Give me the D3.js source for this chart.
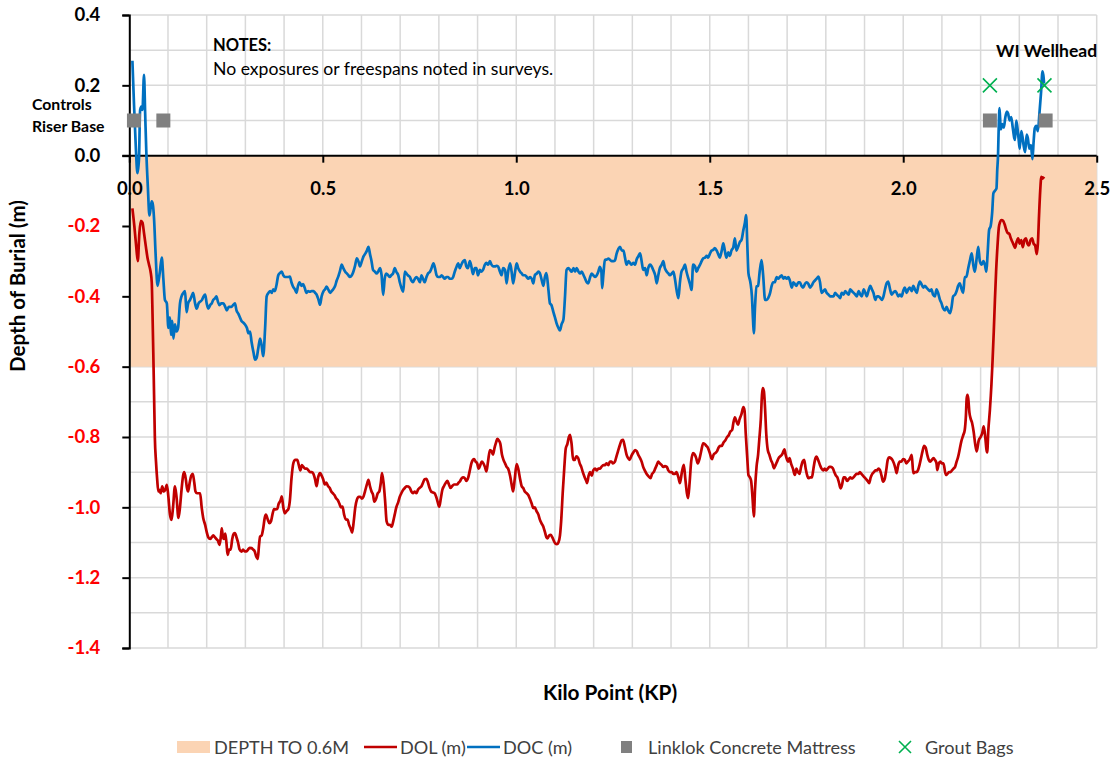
<!DOCTYPE html>
<html><head><meta charset="utf-8">
<script src="https://cdn.jsdelivr.net/npm/d3@7"></script>
<style>
body{margin:0;background:#fff;}
text{font-family:Lato,"Open Sans",sans-serif;}
</style></head>
<body><svg id="chart" width="1119" height="764"></svg>
<script>
// ---------------- DATA ----------------
const xTicks = [0, 0.5, 1.0, 1.5, 2.0, 2.5];
const yTicks = [0.4, 0.2, 0.0, -0.2, -0.4, -0.6, -0.8, -1.0, -1.2, -1.4];
const bandRange = [0, -0.6];   // DEPTH TO 0.6M
const seriesNames = ["DEPTH TO 0.6M", "DOL (m)", "DOC (m)", "Linklok Concrete Mattress", "Grout Bags"];
const mattressKP = [0.012, 0.088, 2.224, 2.368];
const mattressDepth = 0.1;
const groutKP = [2.224, 2.365];
const groutDepth = 0.2;

// DOC (m): [KP, depth]
const docData = [
[0.008,0.27],[0.012,0.15],[0.017,0.02],[0.021,-0.05],[0.025,-0.01],[0.028,0.13],[0.032,0.14],[0.034,0.13],[0.038,0.23],[0.041,0.12],
[0.044,0.01],[0.048,-0.09],[0.052,-0.17],[0.055,-0.15],[0.058,-0.13],[0.061,-0.14],[0.064,-0.18],[0.068,-0.28],[0.073,-0.37],[0.079,-0.33],
[0.084,-0.29],[0.088,-0.35],[0.092,-0.41],[0.097,-0.42],[0.101,-0.49],[0.105,-0.46],[0.108,-0.51],[0.111,-0.47],[0.114,-0.52],[0.118,-0.48],
[0.122,-0.50],[0.126,-0.49],[0.131,-0.42],[0.135,-0.40],[0.14,-0.39],[0.144,-0.385],[0.148,-0.445],[0.152,-0.42],[0.157,-0.41],[0.161,-0.40],
[0.165,-0.39],[0.17,-0.42],[0.174,-0.435],[0.179,-0.42],[0.183,-0.415],[0.188,-0.41],[0.192,-0.40],[0.196,-0.395],[0.2,-0.42],[0.204,-0.435],
[0.209,-0.425],[0.213,-0.42],[0.217,-0.41],[0.222,-0.405],[0.225,-0.40],[0.229,-0.415],[0.233,-0.425],[0.238,-0.42],[0.243,-0.42],[0.248,-0.43],
[0.252,-0.44],[0.257,-0.43],[0.264,-0.43],[0.268,-0.425],[0.273,-0.42],[0.277,-0.44],[0.282,-0.45],[0.286,-0.46],[0.29,-0.47],[0.295,-0.475],
[0.299,-0.48],[0.304,-0.49],[0.308,-0.505],[0.312,-0.50],[0.316,-0.53],[0.321,-0.56],[0.325,-0.58],[0.329,-0.575],[0.333,-0.55],[0.338,-0.52],
[0.342,-0.54],[0.346,-0.57],[0.351,-0.49],[0.355,-0.40],[0.36,-0.39],[0.364,-0.385],[0.368,-0.39],[0.372,-0.38],[0.376,-0.385],[0.38,-0.37],
[0.385,-0.34],[0.389,-0.334],[0.394,-0.33],[0.398,-0.34],[0.402,-0.345],[0.407,-0.345],[0.411,-0.345],[0.415,-0.344],[0.419,-0.36],[0.423,-0.372],
[0.428,-0.38],[0.432,-0.39],[0.436,-0.37],[0.44,-0.36],[0.445,-0.37],[0.449,-0.365],[0.453,-0.375],[0.458,-0.39],[0.462,-0.385],[0.467,-0.387],
[0.471,-0.385],[0.476,-0.385],[0.48,-0.39],[0.484,-0.395],[0.489,-0.41],[0.493,-0.424],[0.497,-0.40],[0.502,-0.385],[0.506,-0.38],[0.51,-0.372],
[0.514,-0.38],[0.519,-0.39],[0.523,-0.385],[0.527,-0.38],[0.532,-0.37],[0.536,-0.355],[0.54,-0.344],[0.544,-0.33],[0.549,-0.31],[0.553,-0.32],
[0.558,-0.33],[0.562,-0.335],[0.566,-0.34],[0.57,-0.345],[0.575,-0.34],[0.579,-0.33],[0.583,-0.315],[0.588,-0.292],[0.592,-0.30],[0.596,-0.315],
[0.601,-0.30],[0.605,-0.287],[0.609,-0.28],[0.614,-0.27],[0.618,-0.259],[0.622,-0.28],[0.626,-0.30],[0.63,-0.325],[0.635,-0.33],[0.639,-0.335],
[0.643,-0.33],[0.648,-0.32],[0.652,-0.34],[0.656,-0.396],[0.66,-0.35],[0.664,-0.335],[0.669,-0.34],[0.673,-0.345],[0.677,-0.34],[0.682,-0.334],
[0.686,-0.32],[0.69,-0.33],[0.695,-0.34],[0.699,-0.36],[0.703,-0.375],[0.708,-0.387],[0.712,-0.33],[0.716,-0.335],[0.72,-0.34],[0.725,-0.345],
[0.729,-0.355],[0.733,-0.36],[0.738,-0.35],[0.742,-0.345],[0.746,-0.35],[0.751,-0.36],[0.755,-0.34],[0.759,-0.35],[0.763,-0.36],[0.768,-0.345],
[0.772,-0.335],[0.777,-0.33],[0.781,-0.32],[0.786,-0.306],[0.79,-0.32],[0.794,-0.34],[0.798,-0.345],[0.803,-0.345],[0.807,-0.34],[0.811,-0.345],
[0.815,-0.35],[0.82,-0.345],[0.824,-0.345],[0.828,-0.35],[0.833,-0.35],[0.837,-0.345],[0.841,-0.33],[0.846,-0.315],[0.85,-0.306],[0.854,-0.32],
[0.858,-0.31],[0.863,-0.30],[0.867,-0.297],[0.871,-0.315],[0.875,-0.32],[0.88,-0.30],[0.884,-0.315],[0.888,-0.337],[0.893,-0.32],[0.897,-0.32],
[0.901,-0.34],[0.906,-0.325],[0.91,-0.33],[0.914,-0.325],[0.919,-0.31],[0.923,-0.305],[0.927,-0.31],[0.932,-0.30],[0.936,-0.31],[0.94,-0.315],
[0.945,-0.315],[0.949,-0.313],[0.953,-0.315],[0.958,-0.33],[0.962,-0.34],[0.966,-0.32],[0.971,-0.325],[0.975,-0.363],[0.979,-0.33],[0.984,-0.306],
[0.988,-0.33],[0.992,-0.363],[0.997,-0.33],[1.001,-0.306],[1.005,-0.32],[1.01,-0.33],[1.014,-0.335],[1.018,-0.34],[1.023,-0.34],[1.027,-0.345],
[1.031,-0.35],[1.036,-0.345],[1.04,-0.35],[1.044,-0.363],[1.048,-0.34],[1.053,-0.335],[1.057,-0.33],[1.061,-0.334],[1.066,-0.355],[1.07,-0.37],
[1.074,-0.345],[1.078,-0.334],[1.083,-0.38],[1.087,-0.42],[1.091,-0.425],[1.096,-0.445],[1.1,-0.46],[1.104,-0.476],[1.109,-0.49],[1.113,-0.497],
[1.117,-0.48],[1.122,-0.465],[1.126,-0.40],[1.13,-0.325],[1.135,-0.32],[1.139,-0.325],[1.143,-0.33],[1.148,-0.32],[1.152,-0.33],[1.156,-0.32],
[1.161,-0.33],[1.165,-0.335],[1.169,-0.33],[1.174,-0.34],[1.178,-0.35],[1.182,-0.36],[1.186,-0.363],[1.191,-0.345],[1.195,-0.335],[1.199,-0.34],
[1.204,-0.345],[1.208,-0.34],[1.212,-0.33],[1.216,-0.316],[1.22,-0.33],[1.222,-0.377],[1.225,-0.34],[1.229,-0.297],[1.234,-0.295],[1.238,-0.293],
[1.242,-0.296],[1.247,-0.3],[1.251,-0.30],[1.255,-0.298],[1.259,-0.28],[1.264,-0.265],[1.268,-0.259],[1.273,-0.27],[1.277,-0.27],[1.281,-0.29],
[1.285,-0.31],[1.29,-0.30],[1.294,-0.305],[1.298,-0.31],[1.303,-0.305],[1.307,-0.31],[1.311,-0.295],[1.316,-0.285],[1.32,-0.278],[1.324,-0.30],
[1.328,-0.325],[1.333,-0.32],[1.337,-0.34],[1.341,-0.32],[1.346,-0.31],[1.35,-0.315],[1.354,-0.325],[1.359,-0.34],[1.363,-0.363],[1.367,-0.34],
[1.371,-0.32],[1.376,-0.31],[1.38,-0.30],[1.384,-0.32],[1.389,-0.33],[1.393,-0.335],[1.397,-0.34],[1.402,-0.335],[1.406,-0.33],[1.41,-0.35],
[1.414,-0.38],[1.419,-0.405],[1.423,-0.36],[1.427,-0.33],[1.432,-0.32],[1.436,-0.31],[1.44,-0.33],[1.445,-0.35],[1.449,-0.365],[1.453,-0.382],
[1.457,-0.31],[1.462,-0.315],[1.466,-0.33],[1.47,-0.32],[1.475,-0.31],[1.479,-0.30],[1.483,-0.292],[1.488,-0.29],[1.492,-0.285],[1.496,-0.29],
[1.5,-0.28],[1.505,-0.27],[1.509,-0.268],[1.513,-0.263],[1.518,-0.27],[1.522,-0.28],[1.526,-0.29],[1.531,-0.27],[1.535,-0.249],[1.539,-0.27],
[1.543,-0.29],[1.548,-0.275],[1.552,-0.285],[1.556,-0.27],[1.561,-0.26],[1.565,-0.235],[1.569,-0.27],[1.573,-0.26],[1.578,-0.245],[1.582,-0.24],
[1.587,-0.211],[1.591,-0.19],[1.594,-0.169],[1.597,-0.25],[1.6,-0.334],[1.605,-0.36],[1.609,-0.40],[1.612,-0.47],[1.614,-0.505],[1.617,-0.43],
[1.621,-0.372],[1.625,-0.37],[1.629,-0.33],[1.634,-0.297],[1.638,-0.34],[1.643,-0.41],[1.647,-0.41],[1.651,-0.405],[1.656,-0.39],[1.66,-0.37],
[1.664,-0.36],[1.668,-0.36],[1.673,-0.345],[1.677,-0.35],[1.681,-0.345],[1.686,-0.34],[1.69,-0.35],[1.694,-0.345],[1.699,-0.35],[1.703,-0.345],
[1.707,-0.355],[1.712,-0.375],[1.716,-0.36],[1.72,-0.365],[1.724,-0.37],[1.729,-0.36],[1.733,-0.36],[1.737,-0.37],[1.741,-0.375],[1.746,-0.365],
[1.75,-0.36],[1.755,-0.365],[1.759,-0.375],[1.763,-0.37],[1.768,-0.36],[1.772,-0.355],[1.776,-0.35],[1.781,-0.344],[1.785,-0.36],[1.789,-0.39],
[1.794,-0.385],[1.798,-0.38],[1.802,-0.39],[1.807,-0.395],[1.811,-0.40],[1.815,-0.40],[1.82,-0.40],[1.824,-0.39],[1.828,-0.395],[1.833,-0.40],
[1.837,-0.405],[1.841,-0.39],[1.846,-0.395],[1.85,-0.385],[1.854,-0.39],[1.859,-0.395],[1.863,-0.38],[1.867,-0.385],[1.872,-0.39],[1.876,-0.395],
[1.88,-0.40],[1.885,-0.385],[1.889,-0.395],[1.893,-0.40],[1.898,-0.38],[1.902,-0.39],[1.906,-0.40],[1.91,-0.385],[1.915,-0.37],[1.919,-0.38],
[1.923,-0.39],[1.928,-0.41],[1.932,-0.40],[1.936,-0.40],[1.941,-0.405],[1.945,-0.41],[1.949,-0.40],[1.953,-0.38],[1.957,-0.363],[1.961,-0.358],
[1.966,-0.38],[1.97,-0.395],[1.974,-0.39],[1.979,-0.385],[1.983,-0.39],[1.987,-0.40],[1.992,-0.395],[1.996,-0.40],[2.0,-0.385],[2.004,-0.375],
[2.009,-0.39],[2.013,-0.38],[2.017,-0.375],[2.022,-0.385],[2.026,-0.37],[2.03,-0.38],[2.035,-0.39],[2.039,-0.37],[2.043,-0.358],[2.047,-0.365],
[2.052,-0.375],[2.056,-0.37],[2.06,-0.375],[2.064,-0.38],[2.069,-0.385],[2.073,-0.38],[2.077,-0.395],[2.082,-0.40],[2.086,-0.38],[2.09,-0.39],
[2.095,-0.41],[2.099,-0.42],[2.103,-0.434],[2.108,-0.44],[2.112,-0.43],[2.116,-0.44],[2.121,-0.448],[2.125,-0.43],[2.129,-0.40],[2.134,-0.395],
[2.138,-0.385],[2.142,-0.37],[2.146,-0.363],[2.151,-0.38],[2.155,-0.39],[2.159,-0.345],[2.163,-0.345],[2.168,-0.32],[2.172,-0.30],[2.177,-0.278],
[2.181,-0.31],[2.185,-0.33],[2.19,-0.29],[2.194,-0.259],[2.198,-0.30],[2.203,-0.31],[2.207,-0.30],[2.211,-0.31],[2.215,-0.33],[2.218,-0.28],
[2.222,-0.211],[2.226,-0.20],[2.23,-0.16],[2.233,-0.107],[2.237,-0.10],[2.241,-0.093],[2.243,-0.04],[2.245,0.0],[2.247,0.09],[2.249,0.135],
[2.252,0.075],[2.256,0.09],[2.26,0.08],[2.264,0.11],[2.268,0.125],[2.271,0.12],[2.275,0.10],[2.279,0.11],[2.283,0.08],[2.287,0.05],
[2.289,0.045],[2.292,0.10],[2.295,0.08],[2.298,0.05],[2.301,0.02],[2.305,0.07],[2.308,0.055],[2.311,0.03],[2.315,0.01],[2.319,0.06],
[2.322,0.05],[2.326,0.02],[2.33,0.03],[2.334,-0.01],[2.337,0.04],[2.34,0.078],[2.344,0.085],[2.348,0.07],[2.352,0.12],[2.356,0.177],
[2.36,0.24],[2.363,0.22],[2.364,0.205]
];

// DOL (m): [KP, depth]
const dolData = [
[0.008,-0.15],[0.013,-0.20],[0.018,-0.26],[0.022,-0.30],[0.026,-0.22],[0.03,-0.185],[0.034,-0.19],[0.038,-0.22],[0.043,-0.26],[0.047,-0.29],
[0.051,-0.31],[0.055,-0.33],[0.058,-0.36],[0.06,-0.45],[0.062,-0.56],[0.064,-0.68],[0.066,-0.80],[0.069,-0.87],[0.072,-0.92],[0.075,-0.955],
[0.078,-0.95],[0.081,-0.96],[0.085,-0.94],[0.089,-0.955],[0.093,-0.95],[0.097,-0.936],[0.101,-0.97],[0.105,-1.02],[0.109,-1.036],[0.113,-1.00],
[0.118,-0.94],[0.122,-0.97],[0.127,-1.03],[0.131,-1.0],[0.135,-0.95],[0.139,-0.91],[0.142,-0.90],[0.146,-0.92],[0.149,-0.945],[0.152,-0.955],
[0.156,-0.93],[0.16,-0.91],[0.164,-0.905],[0.168,-0.93],[0.171,-0.955],[0.175,-0.96],[0.179,-0.96],[0.183,-0.96],[0.187,-1.0],[0.191,-1.03],
[0.196,-1.05],[0.2,-1.07],[0.204,-1.085],[0.209,-1.09],[0.213,-1.085],[0.217,-1.08],[0.221,-1.085],[0.225,-1.09],[0.229,-1.095],[0.233,-1.107],
[0.237,-1.08],[0.239,-1.06],[0.242,-1.085],[0.245,-1.09],[0.248,-1.075],[0.251,-1.10],[0.254,-1.135],[0.258,-1.12],[0.262,-1.12],[0.266,-1.09],
[0.27,-1.075],[0.273,-1.073],[0.277,-1.085],[0.281,-1.10],[0.285,-1.12],[0.29,-1.126],[0.294,-1.12],[0.298,-1.125],[0.303,-1.125],[0.307,-1.12],
[0.311,-1.115],[0.316,-1.116],[0.32,-1.12],[0.324,-1.125],[0.328,-1.14],[0.332,-1.147],[0.335,-1.11],[0.338,-1.083],[0.342,-1.08],[0.346,-1.06],
[0.35,-1.03],[0.353,-1.021],[0.358,-1.035],[0.362,-1.045],[0.366,-1.04],[0.37,-1.02],[0.374,-1.005],[0.378,-1.006],[0.382,-1.005],[0.386,-0.99],
[0.391,-0.98],[0.394,-0.969],[0.398,-1.00],[0.402,-1.017],[0.407,-1.01],[0.411,-1.005],[0.415,-0.98],[0.419,-0.92],[0.424,-0.874],[0.429,-0.865],
[0.434,-0.865],[0.438,-0.88],[0.442,-0.895],[0.446,-0.88],[0.45,-0.885],[0.455,-0.89],[0.459,-0.89],[0.463,-0.895],[0.468,-0.90],[0.472,-0.90],
[0.476,-0.905],[0.48,-0.92],[0.484,-0.94],[0.488,-0.915],[0.493,-0.903],[0.497,-0.91],[0.501,-0.92],[0.505,-0.935],[0.509,-0.93],[0.514,-0.94],
[0.518,-0.945],[0.522,-0.955],[0.526,-0.96],[0.53,-0.965],[0.535,-0.975],[0.539,-0.98],[0.543,-0.99],[0.547,-1.0],[0.551,-0.998],[0.555,-1.02],
[0.56,-1.035],[0.564,-1.035],[0.568,-1.05],[0.572,-1.06],[0.576,-1.072],[0.58,-1.04],[0.584,-1.0],[0.588,-0.979],[0.593,-0.97],[0.597,-0.97],
[0.601,-0.975],[0.605,-0.97],[0.609,-0.955],[0.614,-0.935],[0.618,-0.922],[0.622,-0.94],[0.626,-0.955],[0.63,-0.965],[0.633,-0.984],[0.638,-0.975],
[0.642,-0.96],[0.646,-0.955],[0.65,-0.93],[0.653,-0.903],[0.657,-0.93],[0.661,-0.98],[0.665,-1.04],[0.67,-1.05],[0.674,-1.05],[0.678,-1.055],
[0.682,-1.04],[0.686,-1.02],[0.69,-1.0],[0.695,-0.985],[0.699,-0.97],[0.703,-0.96],[0.708,-0.95],[0.712,-0.945],[0.716,-0.94],[0.721,-0.941],
[0.725,-0.945],[0.729,-0.955],[0.733,-0.96],[0.738,-0.955],[0.742,-0.96],[0.746,-0.95],[0.75,-0.945],[0.755,-0.94],[0.759,-0.93],[0.763,-0.92],
[0.768,-0.919],[0.772,-0.93],[0.776,-0.945],[0.78,-0.955],[0.785,-0.958],[0.789,-0.96],[0.793,-0.97],[0.797,-0.985],[0.801,-0.998],[0.805,-0.975],
[0.809,-0.95],[0.813,-0.94],[0.818,-0.93],[0.822,-0.925],[0.826,-0.935],[0.83,-0.945],[0.834,-0.94],[0.839,-0.935],[0.843,-0.935],[0.847,-0.935],
[0.851,-0.93],[0.855,-0.925],[0.859,-0.917],[0.863,-0.915],[0.867,-0.917],[0.871,-0.925],[0.876,-0.915],[0.88,-0.895],[0.884,-0.875],[0.888,-0.865],
[0.891,-0.863],[0.895,-0.87],[0.899,-0.875],[0.903,-0.89],[0.907,-0.88],[0.911,-0.87],[0.915,-0.875],[0.919,-0.885],[0.923,-0.898],[0.927,-0.87],
[0.932,-0.837],[0.936,-0.84],[0.94,-0.85],[0.944,-0.83],[0.948,-0.815],[0.951,-0.805],[0.955,-0.81],[0.959,-0.82],[0.963,-0.85],[0.967,-0.865],
[0.971,-0.875],[0.975,-0.885],[0.979,-0.89],[0.984,-0.91],[0.988,-0.935],[0.992,-0.955],[0.996,-0.92],[1.001,-0.877],[1.005,-0.89],[1.01,-0.92],
[1.014,-0.94],[1.018,-0.945],[1.022,-0.955],[1.027,-0.96],[1.031,-0.965],[1.035,-0.975],[1.04,-0.99],[1.044,-1.002],[1.048,-1.0],[1.052,-1.01],
[1.057,-1.02],[1.061,-1.035],[1.065,-1.045],[1.07,-1.055],[1.074,-1.07],[1.078,-1.085],[1.081,-1.088],[1.085,-1.08],[1.089,-1.078],[1.093,-1.085],
[1.097,-1.095],[1.101,-1.103],[1.105,-1.105],[1.109,-1.10],[1.113,-1.08],[1.116,-1.04],[1.12,-0.96],[1.124,-0.89],[1.128,-0.832],[1.132,-0.82],
[1.136,-0.8],[1.139,-0.794],[1.143,-0.82],[1.147,-0.865],[1.151,-0.865],[1.155,-0.855],[1.16,-0.86],[1.164,-0.875],[1.168,-0.885],[1.172,-0.90],
[1.177,-0.915],[1.181,-0.925],[1.183,-0.931],[1.187,-0.91],[1.191,-0.9],[1.195,-0.91],[1.199,-0.895],[1.204,-0.89],[1.208,-0.895],[1.212,-0.89],
[1.216,-0.89],[1.22,-0.885],[1.225,-0.88],[1.229,-0.88],[1.233,-0.875],[1.238,-0.88],[1.242,-0.87],[1.246,-0.87],[1.25,-0.875],[1.255,-0.87],
[1.259,-0.855],[1.263,-0.84],[1.268,-0.822],[1.272,-0.81],[1.276,-0.808],[1.28,-0.825],[1.285,-0.85],[1.289,-0.86],[1.293,-0.865],[1.297,-0.855],
[1.302,-0.845],[1.307,-0.837],[1.311,-0.84],[1.315,-0.85],[1.32,-0.86],[1.324,-0.87],[1.328,-0.885],[1.332,-0.895],[1.337,-0.905],[1.342,-0.912],
[1.347,-0.917],[1.351,-0.905],[1.355,-0.9],[1.359,-0.89],[1.363,-0.88],[1.367,-0.87],[1.371,-0.875],[1.376,-0.88],[1.38,-0.885],[1.384,-0.883],
[1.389,-0.885],[1.393,-0.895],[1.397,-0.9],[1.402,-0.9],[1.406,-0.905],[1.41,-0.905],[1.414,-0.9],[1.419,-0.915],[1.423,-0.931],[1.428,-0.9],
[1.433,-0.879],[1.437,-0.92],[1.441,-0.96],[1.444,-0.974],[1.448,-0.93],[1.452,-0.87],[1.457,-0.846],[1.461,-0.85],[1.465,-0.86],[1.469,-0.875],
[1.474,-0.86],[1.478,-0.84],[1.483,-0.818],[1.487,-0.82],[1.491,-0.825],[1.495,-0.83],[1.5,-0.845],[1.504,-0.86],[1.506,-0.863],[1.51,-0.85],
[1.515,-0.845],[1.519,-0.84],[1.523,-0.83],[1.527,-0.825],[1.531,-0.825],[1.536,-0.815],[1.54,-0.81],[1.545,-0.8],[1.549,-0.795],[1.553,-0.785],
[1.558,-0.78],[1.561,-0.76],[1.565,-0.744],[1.569,-0.755],[1.573,-0.765],[1.577,-0.75],[1.582,-0.735],[1.587,-0.715],[1.59,-0.725],[1.593,-0.79],
[1.597,-0.86],[1.6,-0.908],[1.604,-0.915],[1.607,-0.925],[1.611,-0.98],[1.614,-1.026],[1.617,-0.95],[1.621,-0.884],[1.625,-0.85],[1.628,-0.808],
[1.632,-0.75],[1.635,-0.68],[1.637,-0.661],[1.64,-0.67],[1.643,-0.72],[1.646,-0.79],[1.65,-0.837],[1.654,-0.85],[1.658,-0.865],[1.662,-0.875],
[1.666,-0.889],[1.67,-0.88],[1.674,-0.87],[1.678,-0.86],[1.682,-0.855],[1.686,-0.851],[1.689,-0.845],[1.693,-0.835],[1.696,-0.85],[1.7,-0.865],
[1.703,-0.87],[1.706,-0.86],[1.71,-0.875],[1.715,-0.89],[1.72,-0.908],[1.724,-0.89],[1.728,-0.9],[1.732,-0.905],[1.736,-0.885],[1.74,-0.87],
[1.744,-0.865],[1.748,-0.89],[1.752,-0.91],[1.755,-0.917],[1.76,-0.915],[1.764,-0.915],[1.768,-0.89],[1.772,-0.865],[1.776,-0.856],[1.78,-0.865],
[1.785,-0.88],[1.789,-0.89],[1.793,-0.895],[1.797,-0.89],[1.801,-0.895],[1.805,-0.89],[1.809,-0.885],[1.813,-0.885],[1.818,-0.889],[1.822,-0.9],
[1.826,-0.91],[1.83,-0.915],[1.834,-0.93],[1.838,-0.946],[1.842,-0.935],[1.846,-0.915],[1.85,-0.915],[1.855,-0.925],[1.859,-0.92],[1.863,-0.915],
[1.867,-0.918],[1.871,-0.915],[1.875,-0.91],[1.879,-0.905],[1.884,-0.905],[1.888,-0.9],[1.892,-0.905],[1.896,-0.91],[1.9,-0.915],[1.904,-0.92],
[1.908,-0.925],[1.912,-0.931],[1.916,-0.915],[1.92,-0.905],[1.924,-0.9],[1.928,-0.895],[1.932,-0.895],[1.936,-0.89],[1.94,-0.894],[1.944,-0.91],
[1.948,-0.927],[1.952,-0.92],[1.956,-0.895],[1.96,-0.865],[1.964,-0.858],[1.968,-0.86],[1.972,-0.865],[1.976,-0.875],[1.98,-0.89],[1.983,-0.903],
[1.987,-0.88],[1.991,-0.87],[1.995,-0.87],[2.0,-0.863],[2.004,-0.865],[2.008,-0.875],[2.012,-0.87],[2.016,-0.865],[2.02,-0.855],[2.022,-0.851],
[2.026,-0.903],[2.03,-0.9],[2.034,-0.9],[2.038,-0.895],[2.042,-0.88],[2.046,-0.86],[2.05,-0.84],[2.054,-0.825],[2.058,-0.83],[2.062,-0.85],
[2.066,-0.865],[2.07,-0.87],[2.074,-0.865],[2.078,-0.86],[2.082,-0.865],[2.086,-0.875],[2.088,-0.894],[2.092,-0.875],[2.096,-0.87],[2.1,-0.875],
[2.104,-0.875],[2.11,-0.908],[2.114,-0.905],[2.118,-0.9],[2.122,-0.9],[2.126,-0.895],[2.13,-0.89],[2.134,-0.885],[2.138,-0.87],[2.142,-0.856],
[2.146,-0.835],[2.15,-0.813],[2.155,-0.795],[2.159,-0.78],[2.162,-0.74],[2.164,-0.69],[2.166,-0.68],[2.168,-0.69],[2.171,-0.73],[2.174,-0.747],
[2.178,-0.76],[2.182,-0.785],[2.186,-0.82],[2.19,-0.841],[2.195,-0.81],[2.2,-0.8],[2.204,-0.79],[2.208,-0.77],[2.212,-0.8],[2.215,-0.835],
[2.217,-0.844],[2.22,-0.78],[2.224,-0.723],[2.228,-0.65],[2.231,-0.58],[2.234,-0.50],[2.237,-0.41],[2.24,-0.33],[2.244,-0.25],[2.247,-0.205],
[2.25,-0.19],[2.254,-0.183],[2.258,-0.185],[2.262,-0.195],[2.266,-0.21],[2.27,-0.22],[2.274,-0.222],[2.278,-0.235],[2.282,-0.245],[2.286,-0.255],
[2.289,-0.262],[2.293,-0.245],[2.297,-0.235],[2.301,-0.25],[2.305,-0.24],[2.309,-0.26],[2.313,-0.24],[2.317,-0.235],[2.321,-0.25],[2.325,-0.255],
[2.329,-0.24],[2.333,-0.235],[2.337,-0.25],[2.341,-0.255],[2.345,-0.28],[2.348,-0.25],[2.351,-0.17],[2.354,-0.10],[2.357,-0.06],[2.36,-0.065],
[2.364,-0.06]
];

// ---------------- CHART ----------------
const svg = d3.select("#chart");
const x = d3.scaleLinear().domain([0, 2.5]).range([129.3, 1096.7]);
const y = d3.scaleLinear().domain([-1.4, 0.4]).range([648, 15]);

const gridColor = "#D9D9D9";
const minorX = d3.range(1, 26).map(i => i / 10);
const minorY = d3.range(-14, 5).map(i => i / 10);

// gridlines
svg.append("g").selectAll("line.vx").data(minorX).join("line")
  .attr("x1", d => x(d)).attr("x2", d => x(d))
  .attr("y1", y(0.4)).attr("y2", y(-1.4))
  .attr("stroke", gridColor).attr("stroke-width", 1.5);
svg.append("g").selectAll("line.hy").data(minorY).join("line")
  .attr("x1", x(0)).attr("x2", x(2.5))
  .attr("y1", d => y(d)).attr("y2", d => y(d))
  .attr("stroke", gridColor).attr("stroke-width", 1.5);

// band DEPTH TO 0.6M
svg.append("rect")
  .attr("x", x(0)).attr("y", y(bandRange[0]))
  .attr("width", x(2.5) - x(0)).attr("height", y(bandRange[1]) - y(bandRange[0]))
  .attr("fill", "#FBD4B4");

// Y axis
const yAxis = d3.axisLeft(y).tickValues(yTicks).tickSize(7).tickFormat(d3.format(".1f"));
const gy = svg.append("g").attr("transform", `translate(${x(0)},0)`).call(yAxis);
gy.select(".domain").attr("stroke", "#000").attr("stroke-width", 2);
gy.selectAll(".tick line").attr("stroke", "#000").attr("stroke-width", 2);
gy.selectAll(".tick text")
  .attr("x", -29)
  .attr("font-family", "Lato, 'Open Sans', sans-serif")
  .attr("font-size", 18.5).attr("font-weight", "bold")
  .attr("fill", d => d < 0 ? "#FF0000" : "#000")
  .text(d => d3.format(".1f")(d).replace("−", "-"));

// X axis at depth 0
const xAxis = d3.axisBottom(x).tickValues(xTicks).tickSize(7).tickSizeOuter(0).tickFormat(d3.format(".1f"));
const gx = svg.append("g").attr("transform", `translate(0,${y(0)})`).call(xAxis);
gx.select(".domain").attr("stroke", "#000").attr("stroke-width", 2).attr("d", `M${x(0)-7},0H${x(2.5)}`);
gx.selectAll(".tick line").attr("stroke", "#000").attr("stroke-width", 2);
gx.selectAll(".tick text")
  .attr("y", 26)
  .attr("font-family", "Lato, 'Open Sans', sans-serif")
  .attr("font-size", 18.5).attr("font-weight", "bold").attr("fill", "#000");

// Lines
const line = d3.line().x(d => x(d[0])).y(d => y(d[1])).curve(d3.curveMonotoneX);
svg.append("path").datum(dolData).attr("d", line)
  .attr("fill", "none").attr("stroke", "#C00000").attr("stroke-width", 2.7).attr("stroke-linejoin", "round");
svg.append("path").datum(docData).attr("d", line)
  .attr("fill", "none").attr("stroke", "#0070C0").attr("stroke-width", 2.7).attr("stroke-linejoin", "round");

// Mattress markers
svg.append("g").selectAll("rect").data(mattressKP).join("rect")
  .attr("x", d => x(d) - 7).attr("y", y(mattressDepth) - 7)
  .attr("width", 14).attr("height", 14).attr("fill", "#808080");

// Grout bag markers
const xMark = (g, cx, cy, r) => {
  g.append("path").attr("d", `M${cx-r},${cy-r}L${cx+r},${cy+r}M${cx-r},${cy+r}L${cx+r},${cy-r}`)
    .attr("stroke", "#00B050").attr("stroke-width", 1.6).attr("fill", "none");
};
const gg = svg.append("g");
groutKP.forEach(k => xMark(gg, x(k), y(groutDepth), 7));

// Annotations
const ann = svg.append("g").attr("font-family", "Lato, 'Open Sans', sans-serif");
ann.append("text").attr("x", 213).attr("y", 51).attr("font-size", 16.5).attr("font-weight", "bold").text("NOTES:");
ann.append("text").attr("x", 213).attr("y", 75).attr("font-size", 17.6).text("No exposures or freespans noted in surveys.");
ann.append("text").attr("x", 32).attr("y", 110).attr("font-size", 15.8).attr("font-weight", "bold").text("Controls");
ann.append("text").attr("x", 32).attr("y", 132).attr("font-size", 15.8).attr("font-weight", "bold").text("Riser Base");
ann.append("text").attr("x", 996).attr("y", 57).attr("font-size", 17.5).attr("font-weight", "bold").text("WI Wellhead");

// Axis titles
svg.append("text").attr("transform", "translate(25,286) rotate(-90)")
  .attr("text-anchor", "middle").attr("font-size", 20.5).attr("font-weight", "bold").text("Depth of Burial (m)");
svg.append("text").attr("x", 610).attr("y", 700)
  .attr("text-anchor", "middle").attr("font-size", 20.8).attr("font-weight", "bold").text("Kilo Point (KP)");

// Legend
const lg = svg.append("g").attr("font-size", 18.1).attr("fill", "#404040");
const ly = 747;
lg.append("rect").attr("x", 177).attr("y", ly - 6).attr("width", 33).attr("height", 12).attr("fill", "#FBD4B4");
lg.append("text").attr("x", 214).attr("y", ly + 6.5).text(seriesNames[0]);
lg.append("line").attr("x1", 364).attr("x2", 397).attr("y1", ly).attr("y2", ly).attr("stroke", "#C00000").attr("stroke-width", 2.7);
lg.append("text").attr("x", 400).attr("y", ly + 6.5).text(seriesNames[1]);
lg.append("line").attr("x1", 467).attr("x2", 500).attr("y1", ly).attr("y2", ly).attr("stroke", "#0070C0").attr("stroke-width", 2.7);
lg.append("text").attr("x", 503).attr("y", ly + 6.5).text(seriesNames[2]);
lg.append("rect").attr("x", 621).attr("y", ly - 6).attr("width", 11).attr("height", 12).attr("fill", "#808080");
lg.append("text").attr("x", 648).attr("y", ly + 6.5).text(seriesNames[3]);
xMark(lg, 905, ly, 6);
lg.append("text").attr("x", 925).attr("y", ly + 6.5).text(seriesNames[4]);
</script></body></html>
